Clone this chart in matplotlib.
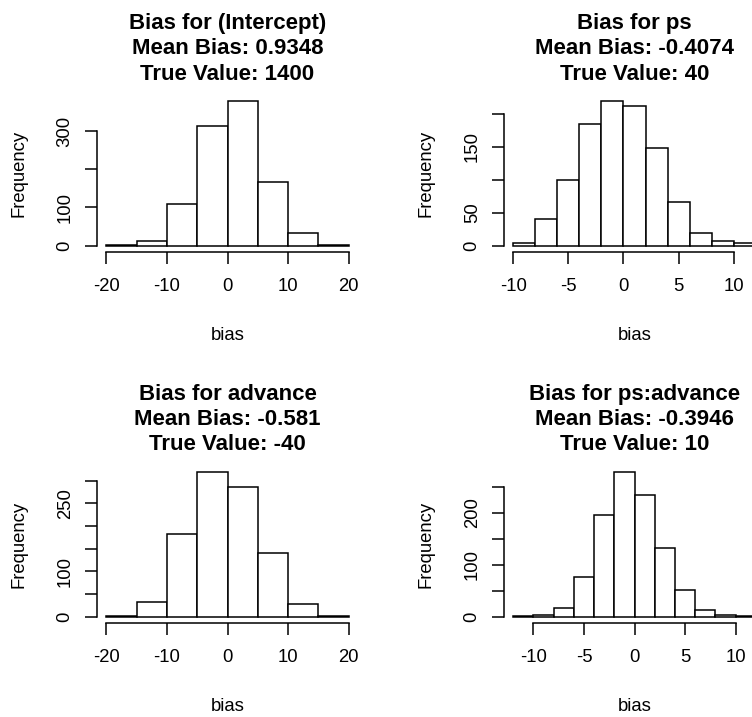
import matplotlib
matplotlib.use('Agg')
import matplotlib.pyplot as plt
from matplotlib.transforms import offset_copy

plt.rcParams['font.family'] = ['Liberation Sans', 'DejaVu Sans']

# coefficient names and summary stats shown in the titles
coef_names = ['(Intercept)', 'ps', 'advance', 'ps:advance']
mean_bias = ['0.9348', '-0.4074', '-0.581', '-0.3946']
true_values = ['1400', '40', '-40', '10']

# histogram breaks and counts of the simulated bias
breaks_int = [-20, -15, -10, -5, 0, 5, 10, 15, 20]
counts_int = [2, 11, 109, 312, 379, 166, 34, 2]
breaks_ps = [-10, -8, -6, -4, -2, 0, 2, 4, 6, 8, 10, 12]
counts_ps = [4, 41, 99, 185, 220, 212, 148, 67, 20, 7, 4]
breaks_adv = [-20, -15, -10, -5, 0, 5, 10, 15, 20]
counts_adv = [2, 33, 183, 320, 287, 140, 27, 2]
breaks_psadv = [-12, -10, -8, -6, -4, -2, 0, 2, 4, 6, 8, 10, 12]
counts_psadv = [1, 3, 17, 77, 196, 279, 234, 132, 51, 12, 3, 1]

# axis ticks; blank labels are the ones dropped for overlap
xticks_int = [-20, -10, 0, 10, 20]
xticks_ps = [-10, -5, 0, 5, 10]
yticks_int = [0, 100, 200, 300]
ylabels_int = ['0', '100', '', '300']
yticks_ps = [0, 50, 100, 150, 200]
ylabels_ps = ['0', '50', '', '150', '']
yticks_adv = [0, 50, 100, 150, 200, 250, 300]
ylabels_adv = ['0', '', '100', '', '', '250', '']
yticks_psadv = [0, 50, 100, 150, 200, 250]
ylabels_psadv = ['0', '', '100', '', '200', '']

panels = [
    (breaks_int, counts_int, xticks_int, yticks_int, ylabels_int),
    (breaks_ps, counts_ps, xticks_ps, yticks_ps, ylabels_ps),
    (breaks_adv, counts_adv, xticks_int, yticks_adv, ylabels_adv),
    (breaks_psadv, counts_psadv, xticks_ps, yticks_psadv, ylabels_psadv),
]

W, H = 752, 717
fig = plt.figure(figsize=(W / 100, H / 100), dpi=100)

lefts = [96.5, 503.5]
tops = [95, 466]
width, height = 262, 156.5
lw = 1.1


def rect(left, top):
    return [left / W, 1 - (top + height) / H, width / W, height / H]


def draw_hist(ax, breaks, counts, xticks, yticks, ylabels, i):
    widths = [b - a for a, b in zip(breaks[:-1], breaks[1:])]
    ax.bar(breaks[:-1], counts, width=widths, align='edge',
           facecolor='white', edgecolor='black', linewidth=lw)
    # R style padding of 4% on both axes
    xr = breaks[-1] - breaks[0]
    ax.set_xlim(breaks[0] - 0.04 * xr, breaks[-1] + 0.04 * xr)
    ymax = max(counts)
    ax.set_ylim(-0.04 * ymax, 1.04 * ymax)

    for s in ['top', 'right']:
        ax.spines[s].set_visible(False)
    ax.spines['left'].set_bounds(yticks[0], yticks[-1])
    ax.spines['bottom'].set_bounds(xticks[0], xticks[-1])
    for s in ['left', 'bottom']:
        ax.spines[s].set_linewidth(lw)

    ax.set_xticks(xticks)
    ax.set_xticklabels([str(t) for t in xticks])
    ax.set_yticks(yticks)
    ax.set_yticklabels(ylabels, rotation=90, va='center')
    ax.tick_params(axis='x', length=8.4, width=lw, pad=10.7, labelsize=13.3)
    ax.tick_params(axis='y', length=8.4, width=lw, pad=8, labelsize=13.3)

    # title lines stacked above the plot region
    lines = ['Bias for ' + coef_names[i], 'Mean Bias: ' + mean_bias[i],
             'True Value: ' + true_values[i]]
    for line, dy in zip(lines, [66, 41, 15.5]):
        tr = offset_copy(ax.transAxes, fig=fig, x=0, y=dy, units='dots')
        ax.text(0.5, 1, line, transform=tr, ha='center', va='baseline',
                fontsize=16, fontweight='bold')

    tr = offset_copy(ax.transAxes, fig=fig, x=0, y=-88.3, units='dots')
    ax.text(0.5, 0, 'bias', transform=tr, ha='center', va='baseline', fontsize=13.3)
    tr = offset_copy(ax.transAxes, fig=fig, x=-73.4, y=0, units='dots')
    ax.text(0, 0.5, 'Frequency', transform=tr, ha='center', va='baseline',
            rotation=90, rotation_mode='anchor', fontsize=13.3)


for i, (breaks, counts, xticks, yticks, ylabels) in enumerate(panels):
    ax = fig.add_axes(rect(lefts[i % 2], tops[i // 2]))
    draw_hist(ax, breaks, counts, xticks, yticks, ylabels, i)

fig.savefig('out.png', dpi=100)
